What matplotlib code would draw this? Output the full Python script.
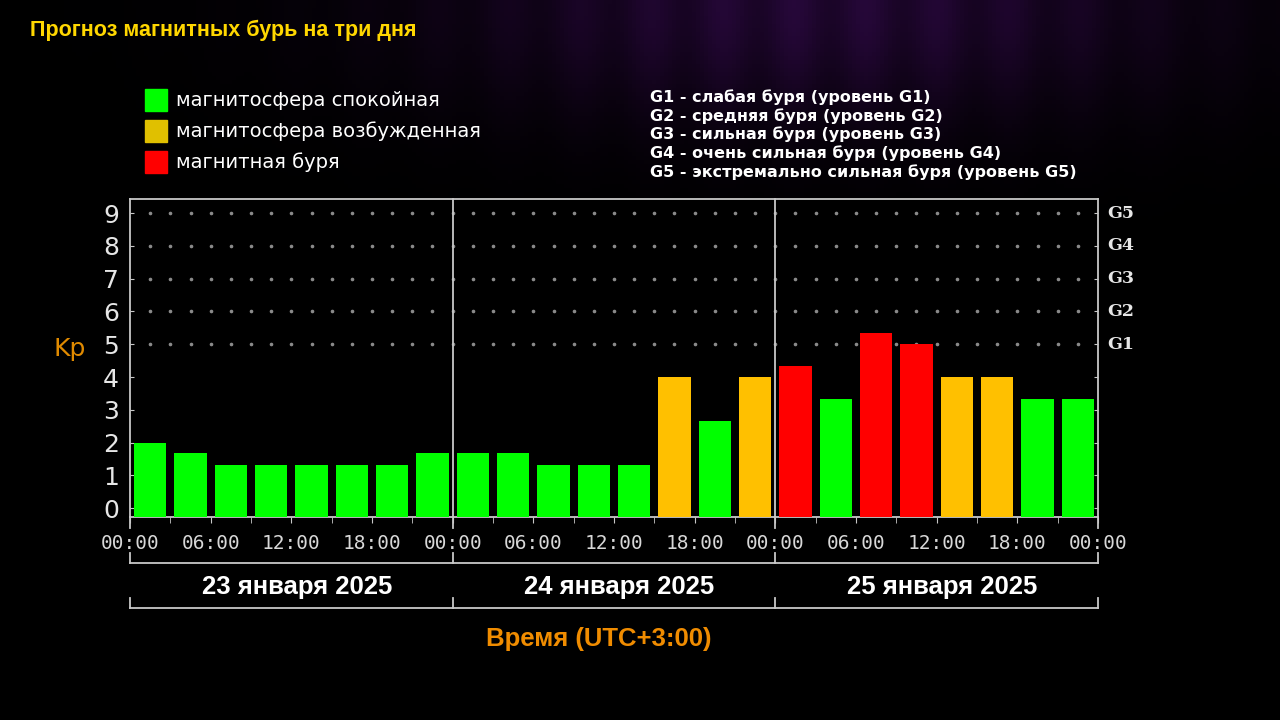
import numpy as np
import matplotlib.pyplot as plt
import matplotlib.transforms as mtransforms

# data
days = ['23 января 2025', '24 января 2025', '25 января 2025']
hours = np.arange(0, 72, 3)
kp = [2.0, 1.67, 1.33, 1.33, 1.33, 1.33, 1.33, 1.67,
      1.67, 1.67, 1.33, 1.33, 1.33, 4.0, 2.67, 4.0,
      4.33, 3.33, 5.33, 5.0, 4.0, 4.0, 3.33, 3.33]
status = ['calm', 'calm', 'calm', 'calm', 'calm', 'calm', 'calm', 'calm',
          'calm', 'calm', 'calm', 'calm', 'calm', 'active', 'calm', 'active',
          'storm', 'calm', 'storm', 'storm', 'active', 'active', 'calm', 'calm']
time_ticks = np.arange(0, 73, 6)
time_labels = ['00:00', '06:00', '12:00', '18:00'] * 3 + ['00:00']
g_levels = ['G1', 'G2', 'G3', 'G4', 'G5']
g_kp = [5, 6, 7, 8, 9]
legend_labels = ['магнитосфера спокойная', 'магнитосфера возбужденная', 'магнитная буря']
g_legend = ['G1 - слабая буря (уровень G1)',
            'G2 - средняя буря (уровень G2)',
            'G3 - сильная буря (уровень G3)',
            'G4 - очень сильная буря (уровень G4)',
            'G5 - экстремально сильная буря (уровень G5)']

colors = {'calm': '#00ff00', 'active': '#ffc000', 'storm': '#ff0000'}
legend_colors = ['#00ff00', '#e0c000', '#ff0000']
line_col = '#c8c8c8'
ymin, ymax = -0.27, 9.43

fig = plt.figure(figsize=(12.8, 7.2), dpi=100)
fig.patch.set_facecolor('black')

# faint purple glow behind the header
bg = fig.add_axes([0, 0, 1, 1], zorder=-5)
gx, gy = np.meshgrid(np.linspace(0, 1280, 320), np.linspace(0, 720, 180))
glow = np.exp(-((gx - 820) / 380) ** 2 - (gy / 120) ** 2) * 0.3
glow = glow * (0.7 + 0.3 * np.cos(gx / 23.0) ** 2)
img = np.dstack([glow * 0.5, glow * 0.1, glow * 0.75])
bg.imshow(np.clip(img, 0, 1), extent=[0, 1280, 720, 0], aspect='auto')
bg.set_xlim(0, 1280)
bg.set_ylim(720, 0)
bg.axis('off')

ax = fig.add_axes([130 / 1280, 1 - 517 / 720, 968 / 1280, 318 / 720])
ax.set_facecolor('black')

ax.bar(hours + 1.5, np.array(kp) - ymin, bottom=ymin, width=2.4,
       color=[colors[s] for s in status], zorder=3)

# dotted grid for G levels
dots_x = np.arange(1.5, 71, 1.5)
for lvl in g_kp:
    ax.plot(dots_x, [lvl] * len(dots_x), ls='none', marker='o', ms=1.6,
            color='#8a8a8a', zorder=1)

ax.set_xlim(0, 72)
ax.set_ylim(ymin, ymax)

for s in ax.spines.values():
    s.set_color(line_col)
    s.set_linewidth(1.3)

# day separators
for d in [24, 48]:
    ax.axvline(d, ymin=-0.035, ymax=1, color=line_col, lw=1.3, clip_on=False, zorder=2)
for d in [0, 72]:
    ax.axvline(d, ymin=-0.035, ymax=0, color=line_col, lw=1.3, clip_on=False)

ax.set_yticks(range(10))
ax.set_yticklabels([str(i) for i in range(10)], fontsize=18, color='#e6e6e6')
ax.tick_params(axis='y', which='both', left=True, right=True, direction='in',
               length=3, color=line_col, pad=8)

ax.set_xticks(time_ticks)
ax.set_xticklabels(time_labels, family='DejaVu Sans Mono', fontsize=14, color='#d8d8d8')
ax.set_xticks(np.arange(3, 72, 6), minor=True)
ax.tick_params(axis='x', which='both', direction='out', length=4, color=line_col, pad=8)

# G levels on the right
yt = mtransforms.blended_transform_factory(ax.transAxes, ax.transData)
for g, lvl in zip(g_levels, g_kp):
    ax.text(1.01, lvl, g, transform=yt, fontsize=12.5, fontweight='bold',
            color='#e6e6e6', va='center', ha='left', family='DejaVu Serif')

ax.text(-0.062, 4.85, 'Kp', transform=yt, fontsize=18, color='#e08a00',
        va='center', ha='center')

# date brackets
trans = mtransforms.blended_transform_factory(ax.transData, ax.transAxes)
ax.plot([0, 72], [-0.145, -0.145], color=line_col, lw=1.3, transform=trans, clip_on=False)
ax.plot([0, 72], [-0.286, -0.286], color=line_col, lw=1.3, transform=trans, clip_on=False)
for d in [0, 24, 48, 72]:
    ax.plot([d, d], [-0.145, -0.113], color=line_col, lw=1.3, transform=trans, clip_on=False)
    ax.plot([d, d], [-0.286, -0.254], color=line_col, lw=1.3, transform=trans, clip_on=False)
for i, day in enumerate(days):
    ax.text(12.4 + 24 * i, -0.22, day, transform=trans, ha='center', va='center',
            fontsize=18.5, fontweight='bold', color='white', family='Liberation Sans')

ax.text(34.9, -0.385, 'Время (UTC+3:00)', transform=trans, ha='center', va='center',
        fontsize=18.5, fontweight='bold', color='#f08c00', family='Liberation Sans')

# header
fig.text(30 / 1280, 1 - 30 / 720, 'Прогноз магнитных бурь на три дня', fontsize=15.5,
         fontweight='bold', color='#ffd700', va='center', ha='left', family='Liberation Sans')

for i, (lab, c) in enumerate(zip(legend_labels, legend_colors)):
    yc = 100 + 31 * i
    fig.patches.append(plt.Rectangle((145 / 1280, 1 - (yc + 11) / 720), 22 / 1280, 22 / 720,
                                     transform=fig.transFigure, color=c, figure=fig))
    fig.text(176 / 1280, 1 - yc / 720, lab, fontsize=14, color='white', va='center', ha='left')

for i, lab in enumerate(g_legend):
    fig.text(650 / 1280, 1 - (97 + 18.8 * i) / 720, lab, fontsize=11.5, color='white',
             fontweight='bold', va='center', ha='left')

fig.savefig('out.png', dpi=100, facecolor='black')
